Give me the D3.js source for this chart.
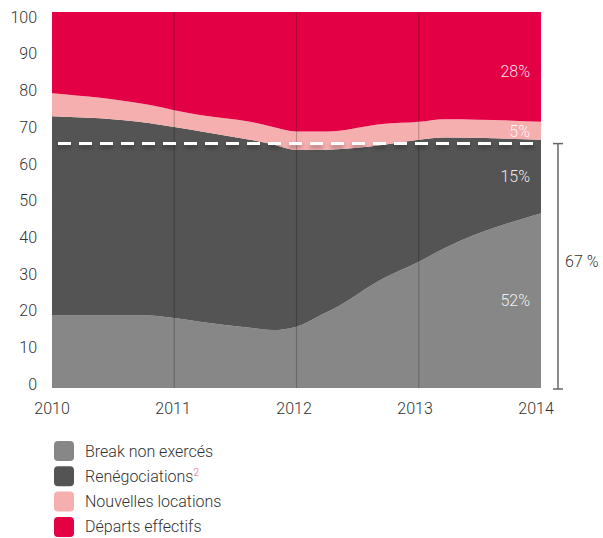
<!DOCTYPE html>
<html>
<head>
    <meta charset="utf-8">
    <title>Break, renégociations, locations, départs</title>
    <style>
        body { margin: 0; background: #fff; }
        text { font-family: Roboto, "Noto Sans", sans-serif; font-weight: 300; }
        .tick-label { font-size: 16px; fill: #333; }
        .legend text { font-size: 16px; fill: #333; }
        .inner-label { font-size: 16px; fill: #fff; }
    </style>
    <script src="https://d3js.org/d3.v7.min.js"></script>
</head>
<body>
    <div id="chart"></div>
    <script>
        // data (year as fraction, % of leases)
        const years = [2010, 2010.79, 2011, 2011.21, 2011.62, 2011.8, 2012, 2012.2, 2012.3, 2012.7, 2013, 2013.21, 2014];
        const breakNonExerces = [19.3, 19.3, 18.6, 17.6, 16.0, 15.4, 16.3, 19.4, 21.0, 29.0, 33.6, 37.2, 46.5];
        const renegociations  = [53.0, 51.2, 50.8, 50.7, 50.0, 49.4, 47.0, 43.9, 42.4, 35.6, 32.4, 29.4, 19.5];
        const nouvellesLocs   = [6.1, 4.8, 4.5, 4.3, 4.8, 4.7, 4.9, 4.9, 4.9, 5.6, 4.8, 4.9, 4.8];
        const departsEffectifs = [21.6, 24.7, 26.1, 27.4, 29.2, 30.5, 31.8, 31.8, 31.7, 29.8, 29.2, 28.5, 29.2];

        const seriesKeys = ["break", "reneg", "nouv", "depart"];
        const seriesNames = ["Break non exercés", "Renégociations", "Nouvelles locations", "Départs effectifs"];
        const seriesColors = ["#878787", "#545454", "#f6afaf", "#e30045"];

        const yearTicks = [2010, 2011, 2012, 2013, 2014];
        const gridYears = [2011, 2012, 2013];
        const yTicks = d3.range(0, 101, 10);
        const threshold = 65;
        const endLabels = ["28%", "5%", "15%", "52%"];
        const totalLabel = "67 %";

        const width = 603, height = 538;

        const table = years.map((yr, i) => ({
            year: yr,
            break: breakNonExerces[i],
            reneg: renegociations[i],
            nouv: nouvellesLocs[i],
            depart: departsEffectifs[i]
        }));

        const x = d3.scaleLinear().domain([2010, 2014]).range([52, 541]);
        const y = d3.scaleLinear().domain([0, 100]).range([388, 12]);
        // tick labels sit slightly inside the plot box
        const xLab = d3.scaleLinear().domain([2010, 2014]).range([52, 536]);
        const yLab = d3.scaleLinear().domain([0, 100]).range([384, 17]);

        const svg = d3.select("#chart").append("svg")
            .attr("width", width)
            .attr("height", height);

        const defs = svg.append("defs");
        const shadow = defs.append("filter").attr("id", "shadow")
            .attr("filterUnits", "userSpaceOnUse")
            .attr("x", 0).attr("y", 0).attr("width", width).attr("height", height);
        shadow.append("feDropShadow")
            .attr("dx", 0).attr("dy", 3).attr("stdDeviation", 2)
            .attr("flood-color", "#000").attr("flood-opacity", 0.35);

        const stacked = d3.stack().keys(seriesKeys)(table);

        const area = d3.area()
            .x(d => x(d.data.year))
            .y0(d => y(d[0]))
            .y1(d => y(d[1]))
            .curve(d3.curveMonotoneX);

        svg.append("g").selectAll("path")
            .data(stacked)
            .enter().append("path")
            .attr("d", area)
            .attr("fill", (d, i) => seriesColors[i]);

        // vertical year lines over the areas
        svg.append("g").selectAll("line")
            .data(gridYears)
            .enter().append("line")
            .attr("x1", d => x(d)).attr("x2", d => x(d))
            .attr("y1", y(100)).attr("y2", y(0))
            .attr("stroke", "#000")
            .attr("stroke-opacity", 0.22)
            .attr("stroke-width", 1.2);

        // dashed threshold
        svg.append("line")
            .attr("x1", 58).attr("x2", x(2014))
            .attr("y1", y(threshold)).attr("y2", y(threshold))
            .attr("stroke", "#fff")
            .attr("stroke-width", 3)
            .attr("stroke-dasharray", "13,8")
            .attr("filter", "url(#shadow)");

        // y tick labels
        svg.append("g").selectAll("text")
            .data(yTicks)
            .enter().append("text")
            .attr("class", "tick-label")
            .attr("x", 37)
            .attr("y", d => yLab(d))
            .attr("dy", "0.36em")
            .attr("text-anchor", "end")
            .text(d => d);

        // x tick labels
        svg.append("g").selectAll("text")
            .data(yearTicks)
            .enter().append("text")
            .attr("class", "tick-label")
            .attr("x", d => xLab(d))
            .attr("y", 414)
            .attr("text-anchor", "middle")
            .text(d => d);

        // labels inside the areas at 2014
        const labelY = [84.2, 68.2, 56.2, 23.4];
        svg.append("g").selectAll("text")
            .data(endLabels)
            .enter().append("text")
            .attr("class", "inner-label")
            .attr("x", 530)
            .attr("y", (d, i) => y(labelY[i]))
            .attr("dy", "0.36em")
            .attr("text-anchor", "end")
            .attr("fill-opacity", 0.9)
            .text(d => d);

        // bracket for the 67 %
        const bx = 558;
        const br = svg.append("g").attr("stroke", "#666").attr("stroke-width", 1.5);
        br.append("line").attr("x1", bx).attr("x2", bx).attr("y1", y(threshold)).attr("y2", y(0) + 1);
        br.append("line").attr("x1", bx - 5).attr("x2", bx + 5).attr("y1", y(threshold)).attr("y2", y(threshold));
        br.append("line").attr("x1", bx - 5).attr("x2", bx + 5).attr("y1", y(0) + 1).attr("y2", y(0) + 1);
        svg.append("text")
            .attr("class", "tick-label")
            .attr("x", 565)
            .attr("y", 267)
            .text(totalLabel);

        // legend
        const legend = svg.append("g").attr("class", "legend");
        const rows = legend.selectAll("g")
            .data(seriesNames)
            .enter().append("g")
            .attr("transform", (d, i) => `translate(54,${441 + i * 25.3})`);
        rows.append("rect")
            .attr("width", 20).attr("height", 20)
            .attr("rx", 4).attr("ry", 4)
            .attr("fill", (d, i) => seriesColors[i]);
        const lt = rows.append("text")
            .attr("x", 31)
            .attr("y", 15.5)
            .text(d => d);
        lt.filter((d, i) => i === 1).append("tspan")
            .attr("dy", -6)
            .attr("font-size", 10)
            .attr("fill", "#ee5a7e")
            .text("2");
    </script>
</body>
</html>
